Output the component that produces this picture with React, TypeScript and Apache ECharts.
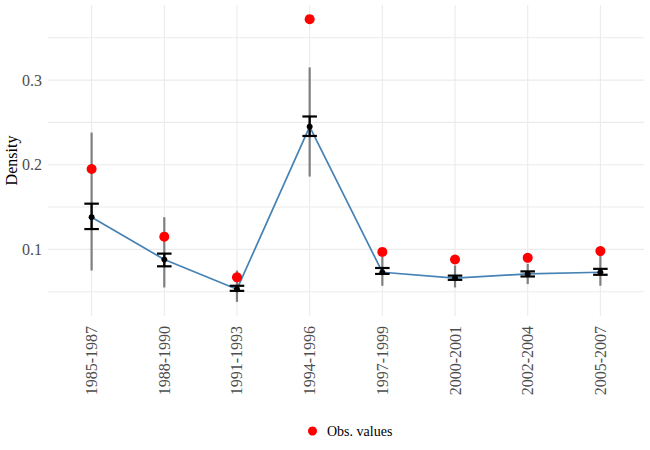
import React, { useEffect, useRef } from "react";
import * as echarts from "echarts";

const categories = ["1985-1987", "1988-1990", "1991-1993", "1994-1996", "1997-1999", "2000-2001", "2002-2004", "2005-2007"];
const obsValues = [0.195, 0.115, 0.067, 0.372, 0.097, 0.088, 0.090, 0.098];
const meanValues = [0.138, 0.088, 0.053, 0.245, 0.073, 0.066, 0.071, 0.073];
const innerLow = [0.124, 0.080, 0.051, 0.234, 0.071, 0.064, 0.068, 0.070];
const innerHigh = [0.154, 0.095, 0.057, 0.257, 0.078, 0.069, 0.074, 0.077];
const outerLow = [0.075, 0.055, 0.038, 0.186, 0.057, 0.055, 0.059, 0.057];
const outerHigh = [0.238, 0.138, 0.075, 0.315, 0.091, 0.081, 0.083, 0.093];
const yTickLabels = [0.1, 0.2, 0.3];
const yGridValues = [0.05, 0.1, 0.15, 0.2, 0.25, 0.3, 0.35];

const FONT = "'Liberation Serif', 'Times New Roman', serif";

export default function App() {
  const ref = useRef<HTMLDivElement>(null);
  useEffect(() => {
    if (!ref.current) return;
    const chart = echarts.init(ref.current, undefined, { renderer: "svg" });
    const idx = categories.map((_, i) => i);
    const option: any = {
      animation: false,
      backgroundColor: "#ffffff",
      textStyle: { fontFamily: FONT },
      grid: { left: 48, right: 6, top: 5, bottom: 134, containLabel: false, outerBoundsMode: "none" },
      legend: {
        data: [{ name: "Obs. values", icon: "circle", itemStyle: { color: "#FF0000", opacity: 1 } }],
        left: 303,
        top: 419,
        itemWidth: 9,
        itemHeight: 9,
        itemGap: 10,
        textStyle: { fontFamily: FONT, fontSize: 14, color: "#000000", padding: [0, 0, 0, 5] },
      },
      xAxis: {
        type: "value",
        min: -0.6,
        max: 7.6,
        axisLine: { show: false },
        axisTick: { show: false },
        splitLine: { show: false },
        axisLabel: {
          customValues: idx,
          rotate: 90,
          margin: 10,
          fontFamily: FONT,
          fontSize: 16,
          color: "#4D4D4D",
          formatter: (v: number) => categories[Math.round(v)] ?? "",
        },
      },
      yAxis: {
        type: "value",
        min: 0.0213,
        max: 0.3887,
        name: "Density",
        nameLocation: "middle",
        nameRotate: 90,
        nameGap: 29,
        nameMoveOverlap: false,
        nameTextStyle: { fontFamily: FONT, fontSize: 16, color: "#000000" },
        axisLine: { show: false },
        axisTick: { show: false },
        splitLine: { show: false },
        axisLabel: {
          customValues: yTickLabels,
          margin: 6,
          fontFamily: FONT,
          fontSize: 16,
          color: "#4D4D4D",
          formatter: (v: number) => v.toFixed(1),
        },
      },
      series: [
        {
          type: "custom",
          name: "hgrid",
          z: 0,
          silent: true,
          data: yGridValues.map((v) => [0, v]),
          renderItem: (params: any, api: any) => {
            const y = api.coord([0, api.value(1)])[1];
            const cs = params.coordSys;
            return {
              type: "line",
              shape: { x1: cs.x, y1: y, x2: cs.x + cs.width, y2: y },
              style: { stroke: "#EBEBEB", lineWidth: 1.1 },
            };
          },
        },
        {
          type: "custom",
          name: "vgrid",
          z: 0,
          silent: true,
          data: idx.map((i) => [i, 0.2]),
          renderItem: (params: any, api: any) => {
            const x = api.coord([api.value(0), 0.2])[0];
            const cs = params.coordSys;
            return {
              type: "line",
              shape: { x1: x, y1: cs.y, x2: x, y2: cs.y + cs.height },
              style: { stroke: "#EBEBEB", lineWidth: 1.1 },
            };
          },
        },
        {
          type: "custom",
          name: "outer",
          z: 2,
          silent: true,
          data: idx.map((i) => [i, outerLow[i], outerHigh[i]]),
          renderItem: (params: any, api: any) => {
            const lo = api.coord([api.value(0), api.value(1)]);
            const hi = api.coord([api.value(0), api.value(2)]);
            return {
              type: "line",
              shape: { x1: lo[0], y1: lo[1], x2: hi[0], y2: hi[1] },
              style: { stroke: "#7F7F7F", lineWidth: 2.2 },
            };
          },
        },
        {
          type: "line",
          name: "mean line",
          z: 3,
          silent: true,
          data: idx.map((i) => [i, meanValues[i]]),
          symbol: "none",
          lineStyle: { color: "#4682B4", width: 1.7 },
        },
        {
          type: "custom",
          name: "inner",
          z: 4,
          silent: true,
          data: idx.map((i) => [i, innerLow[i], innerHigh[i]]),
          renderItem: (params: any, api: any) => {
            const lo = api.coord([api.value(0), api.value(1)]);
            const hi = api.coord([api.value(0), api.value(2)]);
            const half = api.size([0.2, 0])[0] / 2;
            const st = { stroke: "#000000", lineWidth: 2.2 };
            return {
              type: "group",
              children: [
                { type: "line", shape: { x1: lo[0], y1: lo[1], x2: hi[0], y2: hi[1] }, style: st },
                { type: "line", shape: { x1: lo[0] - half, y1: lo[1], x2: lo[0] + half, y2: lo[1] }, style: st },
                { type: "line", shape: { x1: hi[0] - half, y1: hi[1], x2: hi[0] + half, y2: hi[1] }, style: st },
              ],
            };
          },
        },
        {
          type: "scatter",
          name: "mean",
          z: 5,
          silent: true,
          data: idx.map((i) => [i, meanValues[i]]),
          symbol: "circle",
          symbolSize: 6,
          itemStyle: { color: "#000000", opacity: 1 },
        },
        {
          type: "scatter",
          name: "Obs. values",
          z: 6,
          silent: true,
          data: idx.map((i) => [i, obsValues[i]]),
          symbol: "circle",
          symbolSize: 10,
          itemStyle: { color: "#FF0000", opacity: 1 },
        },
      ],
    };
    chart.setOption(option);
    return () => chart.dispose();
  }, []);
  return <div ref={ref} style={{ position: "absolute", left: 0, top: 0, width: 650, height: 450 }} />;
}
